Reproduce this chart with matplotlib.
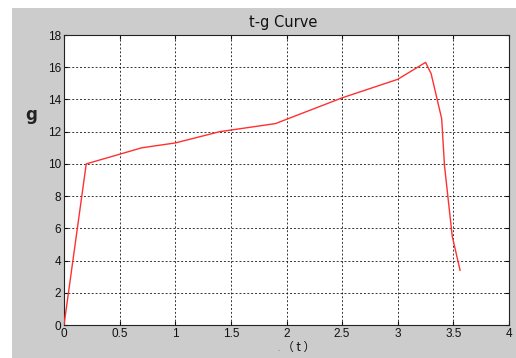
import matplotlib
matplotlib.use("Agg")
import matplotlib.pyplot as plt
from matplotlib.patches import Rectangle

t_vals = [0.0, 0.2, 0.7, 1.0, 1.4, 1.9, 2.5, 3.0, 3.25, 3.3, 3.395, 3.42, 3.49, 3.56]
g_vals = [0.0, 10.0, 11.0, 11.3, 12.0, 12.5, 14.1, 15.25, 16.3, 15.6, 12.8, 9.9, 5.5, 3.4]
x_ticks = [0, 0.5, 1, 1.5, 2, 2.5, 3, 3.5, 4]
x_tick_labels = ["0", "0.5", "1", "1.5", "2", "2.5", "3", "3.5", "4"]
y_ticks = [0, 2, 4, 6, 8, 10, 12, 14, 16, 18]

W, H = 516, 358
fig = plt.figure(figsize=(W / 100, H / 100), dpi=100, facecolor="white")
fig.patches.append(Rectangle((12 / W, 0), 1 - 12 / W, 1 - 8 / H, transform=fig.transFigure,
                             facecolor="#cccccc", edgecolor="none", zorder=-10))

ax = fig.add_axes([64 / W, (H - 325) / H, (509 - 64) / W, (325 - 35) / H])
ax.set_facecolor("white")
ax.plot(t_vals, g_vals, color="#ff3030", linewidth=1.0, zorder=3)

ax.set_xlim(0, 4)
ax.set_ylim(0, 18)
ax.set_xticks(x_ticks)
ax.set_xticklabels(x_tick_labels)
ax.set_yticks(y_ticks)
ax.grid(True, color="black", linestyle=(0, (2.0, 2.0)), linewidth=0.7, alpha=0.8)
ax.tick_params(direction="in", top=True, right=True, length=3, width=0.8,
               labelsize=8.5, pad=2, colors="#111111")
for lab in ax.get_xticklabels() + ax.get_yticklabels():
    lab.set_fontfamily("Liberation Sans")
for s in ax.spines.values():
    s.set_color("#222222")
    s.set_linewidth(0.8)

fig.text(283 / W, 1 - 22 / H, "t-g Curve", ha="center", va="center",
         fontsize=10.5, family="DejaVu Sans", color="#111111")
fig.text(31 / W, 1 - 115 / H, "g", ha="center", va="center",
         fontsize=12, family="DejaVu Sans", color="#222222", fontweight="semibold")
fig.text(278 / W, 1 - 349 / H, ".", ha="center", va="center", fontsize=5, color="#666666")
fig.text(299 / W, 1 - 347 / H, "（ t ）", ha="center", va="center",
         fontsize=8.5, family=["Noto Sans CJK SC", "DejaVu Sans"], color="#111111")

fig.savefig("out.png", dpi=100, facecolor=fig.get_facecolor())
